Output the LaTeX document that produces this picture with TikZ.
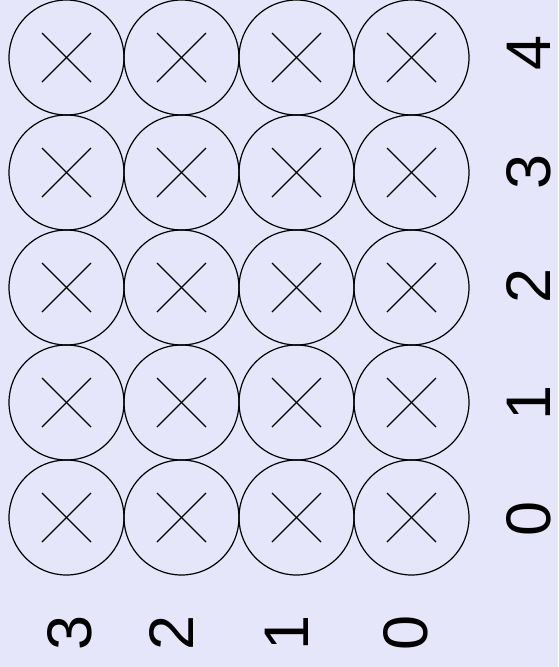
\documentclass[tikz,border=0pt]{standalone}
\usepackage{fontspec}
\setmainfont{Liberation Sans}
\usepackage{xcolor}
\usepackage{tikz}
\usetikzlibrary{positioning, calc}

\definecolor{bgcol}{RGB}{230,230,250}

\tikzset{
  cell/.style={draw, circle, minimum size=115pt, inner sep=0pt, line width=1.2pt},
  cross/.style={line width=1.2pt},
  lab/.style={rotate=90, inner sep=0pt, font=\fontsize{63}{63}\selectfont}
}

\begin{document}
\begin{tikzpicture}[x=1pt, y=-1pt]
        \fill[bgcol] (0,0) rectangle (558,667);
        \useasboundingbox (0,0) rectangle (558,667);
        % grid of crossed circles
        \foreach \c in {0,...,3} {
          \foreach \r in {0,...,4} {
            \node[cell] (c\c r\r) at (66.5+115*\c, 57.5+115*\r) {};
            \draw[cross] ($(c\c r\r.center)+(-24.5,-24.5)$) -- ($(c\c r\r.center)+(24.5,24.5)$);
            \draw[cross] ($(c\c r\r.center)+(-24.5,24.5)$) -- ($(c\c r\r.center)+(24.5,-24.5)$);
          }
        }

        % column labels
        \foreach \x/\val in {70/3, 172/2, 287/1, 406/0} {
          \node[lab] (col\val) at (\x,633) {\val};
        }

        % row labels
        \foreach \y/\val in {53/4, 172/3, 286/2, 403/1, 519/0} {
          \node[lab] (row\val) at (529,\y) {\val};
        }
      \end{tikzpicture}
\end{document}
